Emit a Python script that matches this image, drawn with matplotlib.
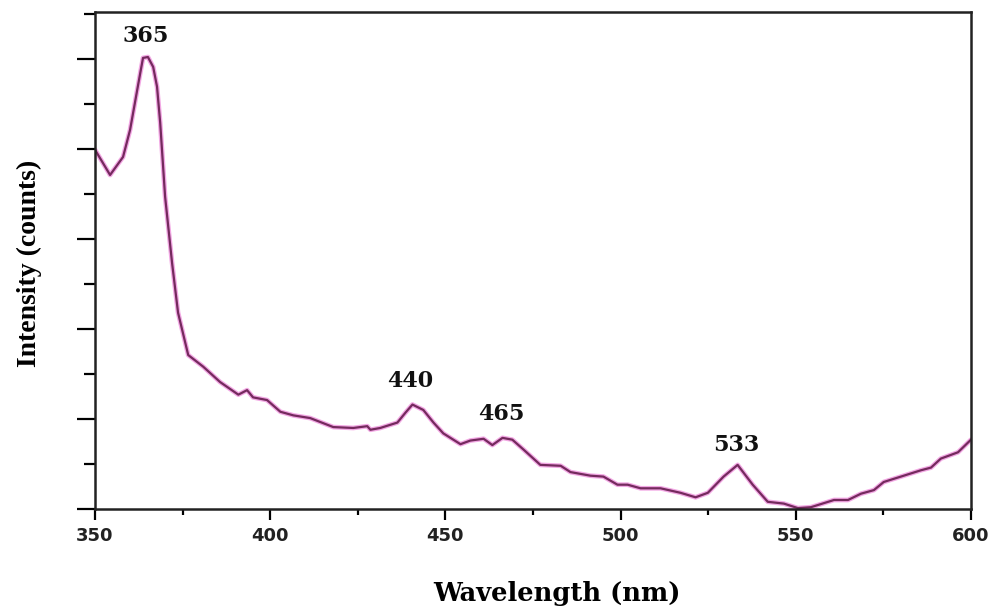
import matplotlib
matplotlib.use("Agg")
import matplotlib.pyplot as plt
from matplotlib.ticker import MultipleLocator

# Emission spectrum (intensity in arbitrary units, 1 unit = one major y tick)
wavelength = [
    350.0, 354.3, 358.0, 360.0, 362.9, 363.7, 365.1, 366.6, 367.7, 368.6,
    370.0, 372.0, 373.7, 376.6, 380.9, 385.7, 390.9, 393.4, 395.1, 399.1,
    402.9, 406.6, 411.4, 418.0, 423.7, 427.7, 428.6, 431.4, 436.3, 438.6,
    440.6, 443.7, 446.6, 449.4, 454.3, 457.1, 460.9, 463.4, 466.3, 469.1,
    472.3, 477.1, 482.9, 485.7, 491.4, 495.1, 499.1, 502.0, 505.7, 511.4,
    517.1, 521.4, 524.9, 529.4, 533.4, 537.7, 542.0, 546.6, 550.6, 554.3,
    560.9, 564.9, 568.6, 572.3, 575.1, 580.0, 585.7, 588.6, 591.4, 596.3,
    600.0,
]
intensity = [
    3.99, 3.71, 3.91, 4.21, 4.84, 5.01, 5.02, 4.91, 4.69, 4.29,
    3.47, 2.73, 2.18, 1.71, 1.58, 1.41, 1.27, 1.32, 1.24, 1.21,
    1.08, 1.04, 1.01, 0.91, 0.90, 0.92, 0.88, 0.90, 0.96, 1.07,
    1.16, 1.10, 0.96, 0.84, 0.72, 0.76, 0.78, 0.71, 0.79, 0.77,
    0.66, 0.49, 0.48, 0.41, 0.37, 0.36, 0.27, 0.27, 0.23, 0.23,
    0.18, 0.13, 0.18, 0.36, 0.49, 0.27, 0.08, 0.06, 0.01, 0.02,
    0.10, 0.10, 0.17, 0.21, 0.30, 0.36, 0.43, 0.46, 0.56, 0.63,
    0.77,
]

# Peak annotations: label text, wavelength, intensity where the label sits
peak_labels = ["365", "440", "465", "533"]
peak_x = [364.5, 440.0, 466.0, 533.0]
peak_y = [5.25, 1.42, 1.05, 0.71]

x_ticks = [350, 400, 450, 500, 550, 600]

fig = plt.figure(figsize=(9.97, 6.09), dpi=100)
ax = fig.add_axes([0.0953, 0.1642, 0.8786, 0.8161])

# faint pink halo under a dark purple trace, like the scanned figure
ax.plot(wavelength, intensity, color="#f2a8e4", linewidth=3.4, solid_capstyle="round")
ax.plot(wavelength, intensity, color="#752a5e", linewidth=1.6)

for text, px, py in zip(peak_labels, peak_x, peak_y):
    ax.text(px, py, text, ha="center", va="center", fontsize=16,
            fontweight="bold", family="DejaVu Serif", color="#111111")

ax.set_xlim(350, 600)
ax.set_ylim(0, 5.52)
ax.set_xticks(x_ticks)
ax.xaxis.set_minor_locator(MultipleLocator(25))
ax.yaxis.set_major_locator(MultipleLocator(1))
ax.yaxis.set_minor_locator(MultipleLocator(0.5))
ax.set_yticklabels([])

for label in ax.get_xticklabels():
    label.set_fontweight("bold")
    label.set_fontsize(13)
    label.set_family("DejaVu Sans")
    label.set_color("#222222")

ax.tick_params(axis="x", which="major", direction="out", length=8, width=1.6, pad=5)
ax.tick_params(axis="x", which="minor", direction="out", length=4, width=1.6)
ax.tick_params(axis="y", which="major", direction="out", length=13, width=1.6)
ax.tick_params(axis="y", which="minor", direction="out", length=8, width=1.6)

for spine in ax.spines.values():
    spine.set_linewidth(1.8)
    spine.set_color("#222222")

ax.set_xlabel("Wavelength (nm)", fontsize=18.5, fontweight="bold",
              family="DejaVu Serif")
ax.xaxis.set_label_coords(0.527, -0.145)
ax.set_ylabel("Intensity (counts)", fontsize=20, fontweight="bold",
              family="Liberation Serif")
ax.yaxis.set_label_coords(-0.0605, 0.495)

fig.savefig("out.png", dpi=100)
